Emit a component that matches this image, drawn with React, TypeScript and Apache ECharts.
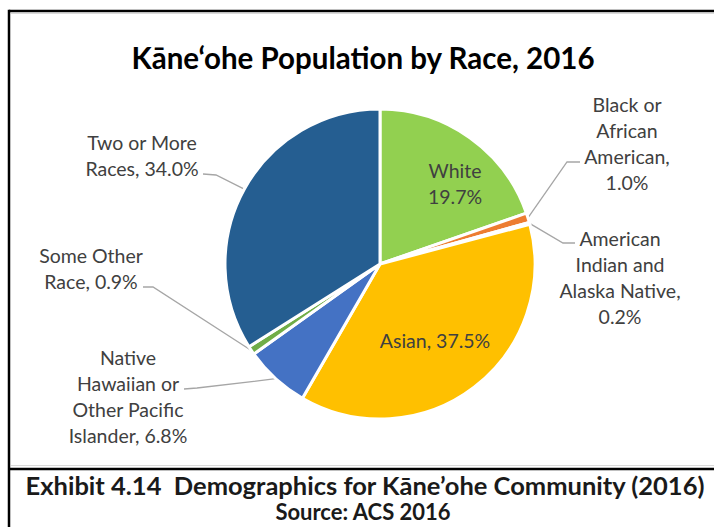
import React, { useEffect, useRef } from "react";
import * as echarts from "echarts";

const categories = [
  "White",
  "Black or African American",
  "American Indian and Alaska Native",
  "Asian",
  "Native Hawaiian or Other Pacific Islander",
  "Some Other Race",
  "Two or More Races",
];
const values = [19.7, 1.0, 0.2, 37.5, 6.8, 0.9, 34.0];
const labelTexts = [
  "White\n19.7%",
  "Black or\nAfrican\nAmerican,\n1.0%",
  "American\nIndian and\nAlaska Native,\n0.2%",
  "Asian, 37.5%",
  "Native\nHawaiian or\nOther Pacific\nIslander, 6.8%",
  "Some Other\nRace, 0.9%",
  "Two or More\nRaces, 34.0%",
];
const titleText = "Kāne‘ohe Population by Race, 2016";
const captionLines = ["Exhibit 4.14  Demographics for Kāne’ohe Community (2016)", "Source: ACS 2016"];

const colors = ["#92D050", "#ED7D31", "#A5A5A5", "#FFC000", "#4472C4", "#70AD47", "#255E91"];

// label layout (position of label block center, line elbow and label anchor)
const labelPos: Record<number, { x: number; y: number; inside?: boolean; elbow?: number[]; anchor?: number[] }> = {
  0: { x: 455, y: 183, inside: true },
  1: { x: 627, y: 143, elbow: [567, 162], anchor: [580, 162] },
  2: { x: 620, y: 277, elbow: [563, 243], anchor: [575, 243] },
  3: { x: 435, y: 340, inside: true },
  4: { x: 128, y: 396, elbow: [197, 388], anchor: [184, 389] },
  5: { x: 91, y: 268, elbow: [153, 287], anchor: [143, 287] },
  6: { x: 142, y: 155, elbow: [216, 175], anchor: [203, 174] },
};

const CX = 380;
const CY = 264;
const R = 155;
const LABEL_FONT = "Lato";
const LABEL_SIZE = 19.5;

export default function App() {
  const ref = useRef<HTMLDivElement>(null);
  useEffect(() => {
    if (!ref.current) return;
    const chart = echarts.init(ref.current, undefined, { renderer: "svg" });
    const total = values.reduce((a, b) => a + b, 0);
    const data = categories.map((name, i) => {
      const lp = labelPos[i];
      return {
        name,
        value: values[i],
        itemStyle: { color: colors[i] },
        label: {
          show: true,
          formatter: labelTexts[i],
          position: lp.inside ? "inside" : "outside",
        },
        labelLine: { show: !lp.inside },
      };
    });
    chart.setOption({
      animation: false,
      graphic: [
        { type: "line", shape: { x1: 9, y1: 11, x2: 714, y2: 11 }, style: { stroke: "#000", lineWidth: 2.5 } },
        { type: "line", shape: { x1: 9, y1: 9.8, x2: 9, y2: 527 }, style: { stroke: "#000", lineWidth: 2.5 } },
        { type: "line", shape: { x1: 11, y1: 13.5, x2: 714, y2: 13.5 }, style: { stroke: "#D9D9D9", lineWidth: 1 } },
        { type: "line", shape: { x1: 11, y1: 465.5, x2: 714, y2: 465.5 }, style: { stroke: "#D9D9D9", lineWidth: 1 } },
        { type: "line", shape: { x1: 9, y1: 469, x2: 714, y2: 469 }, style: { stroke: "#000", lineWidth: 2.5 } },
        {
          type: "text",
          x: 363,
          y: 57,
          style: {
            text: titleText,
            align: "center",
            verticalAlign: "middle",
            font: "bold 29.5px Lato",
            fill: "#000",
          },
        },
        {
          type: "text",
          x: 365,
          y: 485,
          style: {
            text: captionLines[0],
            align: "center",
            verticalAlign: "middle",
            font: "bold 25.5px Lato",
            fill: "#1a1a1a",
          },
        },
        {
          type: "text",
          x: 363,
          y: 511,
          style: {
            text: captionLines[1],
            align: "center",
            verticalAlign: "middle",
            font: "bold 22px Lato",
            fill: "#1a1a1a",
          },
        },
      ],
      series: [
        {
          type: "pie",
          center: [CX, CY],
          radius: R,
          startAngle: 90,
          clockwise: true,
          avoidLabelOverlap: false,
          itemStyle: { borderColor: "#fff", borderWidth: 3 },
          label: {
            color: "#404040",
            fontFamily: LABEL_FONT,
            fontSize: LABEL_SIZE,
            lineHeight: 26,
            align: "center",
          },
          labelLine: { show: true, lineStyle: { color: "#A6A6A6", width: 1.3 } },
          emphasis: { disabled: true },
          labelLayout: (params: any) => {
            const i = params.dataIndex;
            const lp = labelPos[i];
            const res: any = { x: lp.x, y: lp.y, align: "center", verticalAlign: "middle" };
            if (!lp.inside) {
              let p0 = params.labelLinePoints && params.labelLinePoints[0];
              if (!p0) {
                let cum = 0;
                for (let k = 0; k < i; k++) cum += values[k];
                const ang = ((cum + values[i] / 2) / total) * Math.PI * 2;
                p0 = [CX + R * Math.sin(ang), CY - R * Math.cos(ang)];
              }
              res.labelLinePoints = [p0, lp.elbow, lp.anchor];
            }
            return res;
          },
          data,
        },
      ],
    });
    return () => chart.dispose();
  }, []);
  return <div ref={ref} style={{ position: "absolute", left: 0, top: 0, width: 714, height: 527 }} />;
}
